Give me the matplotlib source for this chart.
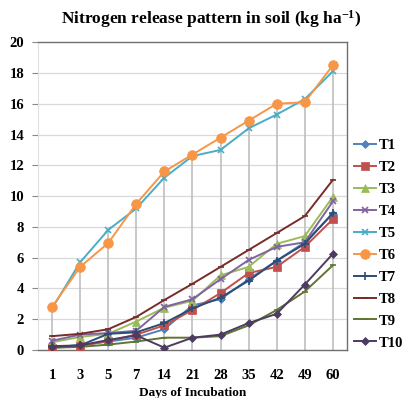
import numpy as np
import matplotlib.pyplot as plt

days = ["1", "3", "5", "7", "14", "21", "28", "35", "42", "49", "60"]

T1 = [0.2, 0.3, 0.55, 0.8, 1.35, 2.9, 3.3, 4.6, 5.8, 7.0, 8.85]
T2 = [0.15, 0.25, 0.6, 1.0, 1.6, 2.6, 3.7, 5.0, 5.4, 6.7, 8.5]
T3 = [0.5, 0.85, 1.05, 1.85, 2.75, 3.2, 4.85, 5.4, 6.9, 7.4, 9.95]
T4 = [0.6, 1.0, 1.1, 1.25, 2.8, 3.3, 4.6, 5.85, 6.7, 7.0, 9.65]
T5 = [2.7, 5.7, 7.8, 9.2, 11.2, 12.6, 13.0, 14.4, 15.3, 16.3, 18.1]
T6 = [2.8, 5.4, 6.95, 9.5, 11.6, 12.7, 13.8, 14.9, 16.0, 16.1, 18.5]
T7 = [0.25, 0.3, 1.05, 1.15, 1.75, 2.7, 3.4, 4.5, 5.8, 6.9, 8.9]
T8 = [0.9, 1.05, 1.35, 2.15, 3.25, 4.3, 5.4, 6.5, 7.6, 8.7, 11.05]
T9 = [0.15, 0.2, 0.35, 0.55, 0.8, 0.8, 0.9, 1.6, 2.6, 3.8, 5.5]
T10 = [0.2, 0.3, 0.65, 0.95, 0.15, 0.8, 1.0, 1.75, 2.35, 4.25, 6.25]

names = ["T1", "T2", "T3", "T4", "T5", "T6", "T7", "T8", "T9", "T10"]
series = [T1, T2, T3, T4, T5, T6, T7, T8, T9, T10]
colors = ["#4F81BD", "#C0504D", "#9BBB59", "#8064A2", "#4BACC6",
          "#F79646", "#2C4D75", "#772C2A", "#5F7530", "#4D3B62"]
markers = ["D", "s", "^", "x", "x", "o", "+", "_", "_", "D"]
msizes = [4, 6, 6, 5, 5, 7, 6, 5, 4, 4]

plt.rcParams['font.family'] = 'Liberation Serif'
plt.rcParams['mathtext.fontset'] = 'custom'
plt.rcParams['mathtext.rm'] = 'Liberation Serif:bold'
plt.rcParams['mathtext.default'] = 'rm'

fig = plt.figure(figsize=(4.11, 3.98), dpi=100)
ax = fig.add_axes([0.0925, 0.1206, 0.7515, 0.7734])

x = np.arange(len(days))

# grid
for v in range(2, 20, 2):
    ax.axhline(v, color="#d9d9d9", lw=0.9, zorder=0)

# drop lines
top = np.max(np.array(series), axis=0)
ax.vlines(x, 0, top, color="#bfbfbf", lw=1.2, zorder=1)

for s, n, c, m, ms in zip(series, names, colors, markers, msizes):
    ax.plot(x, s, color=c, marker=m, markersize=ms, lw=1.4, label=n,
            markeredgewidth=1.2 if m in ("x", "+", "_") else 0.5, zorder=3)

ax.set_xlim(-0.5, 10.5)
ax.set_ylim(0, 20)
ax.set_yticks(range(0, 21, 2))
ax.set_xticks(x)
ax.set_xticklabels(days)
for lab in ax.get_xticklabels() + ax.get_yticklabels():
    lab.set_fontweight("bold")
    lab.set_fontsize(10.5)
ax.tick_params(axis="x", length=0, pad=14)
ax.tick_params(axis="y", length=4, color="#888888", pad=6)

for side in ["top", "right", "bottom"]:
    ax.spines[side].set_color("#707070")
    ax.spines[side].set_linewidth(1.0)
ax.spines["left"].set_color("#e0e0e0")

ax.set_xlabel("Days of Incubation", fontsize=9.5, fontweight="bold", labelpad=3)
fig.text(0.515, 0.953, "Nitrogen release pattern in soil (kg ha$^{-1}$)",
         ha="center", va="center", fontsize=12.5, fontweight="bold")

ax.legend(loc="center left", bbox_to_anchor=(1.005, 0.344), frameon=False,
          prop={"weight": "bold", "size": 10.5}, handlelength=1.5,
          handletextpad=0.15, labelspacing=0.6, borderaxespad=0)

fig.savefig("out.png", dpi=100)
